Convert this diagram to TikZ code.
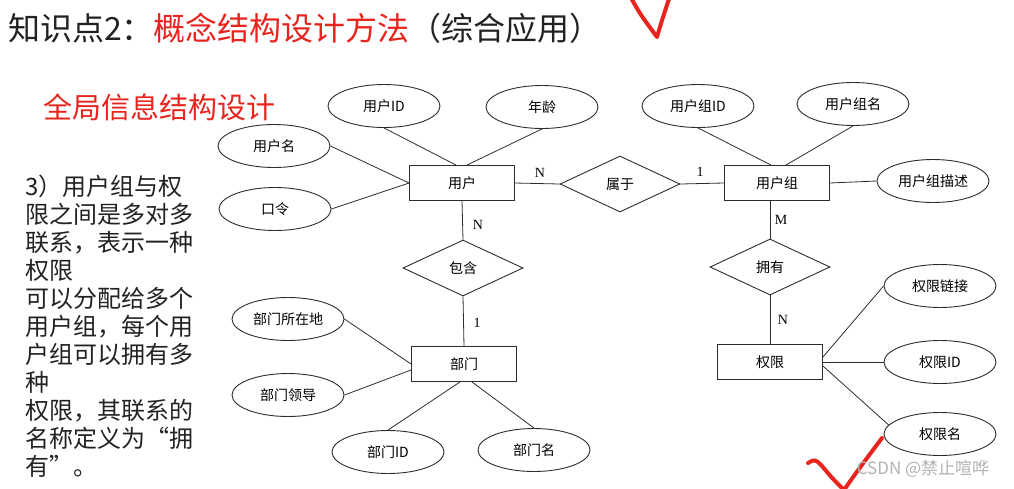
\documentclass[tikz,border=0pt]{standalone}
\usepackage{fontspec}
\setmainfont{Noto Sans CJK SC}
\newfontfamily\cardfont{Liberation Serif}
\usepackage{xcolor}
\usepackage{tikz}
\usetikzlibrary{shapes.geometric}
\usetikzlibrary{positioning}
\definecolor{titlered}{RGB}{232,36,30}
\definecolor{txtgray}{RGB}{34,34,34}
\definecolor{erline}{RGB}{45,45,45}

\begin{document}
\begin{tikzpicture}[x=1pt, y=-1pt,
  entity/.style={draw=erline, line width=0.9pt, rectangle, minimum width=105pt, minimum height=35pt, inner sep=0pt, font=\fontsize{14}{16}\selectfont},
  attr/.style={draw=erline, line width=0.9pt, ellipse, minimum width=112pt, minimum height=43pt, inner sep=0pt, font=\fontsize{14}{16}\selectfont},
  rel/.style={draw=erline, line width=0.9pt, diamond, minimum width=120pt, minimum height=56pt, inner sep=0pt, font=\fontsize{14}{16}\selectfont},
  card/.style={font=\cardfont\fontsize{14}{16}\selectfont, inner sep=0pt},
  link/.style={draw=erline, line width=0.8pt}]

  % Moldura
  \useasboundingbox (0,0) rectangle (1014,488);

  % Titulos
  \node[anchor=west, text=txtgray, inner sep=0pt, font=\fontsize{32}{36}\selectfont] (title) at (8,28)
    {知识点2：\textcolor{titlered}{概念结构设计方法}（综合应用）};
  \node[anchor=west, text=titlered, inner sep=0pt, font=\fontsize{29}{32}\selectfont] (sub) at (43,107) {全局信息结构设计};

  % Texto lateral
  \node[anchor=north west, align=left, text=txtgray, inner sep=0pt, font=\fontsize{24}{28}\selectfont] (desc) at (25,175)
    {3）用户组与权\\限之间是多对多\\联系，表示一种\\权限\\可以分配给多个\\用户组，每个用\\户组可以拥有多\\种\\权限，其联系的\\名称定义为“拥\\有”。};

  % Entidades
  \node[entity] (user) at (462,183) {用户};
  \node[entity] (group) at (777,183) {用户组};
  \node[entity] (dept) at (464,364) {部门};
  \node[entity] (perm) at (770,362) {权限};

  % Relacionamentos
  \node[rel] (belong) at (620,184) {属于};
  \node[rel] (contain) at (463,268) {包含};
  \node[rel] (own) at (770,267) {拥有};

  % Atributos
  \node[attr] (uid) at (384,106) {用户ID};
  \node[attr] (age) at (542,107) {年龄};
  \node[attr] (uname) at (274,146) {用户名};
  \node[attr] (pwd) at (275,209) {口令};
  \node[attr] (gid) at (698,106) {用户组ID};
  \node[attr] (gname) at (853,104) {用户组名};
  \node[attr] (gdesc) at (933,181) {用户组描述};
  \node[attr] (plink) at (940,286) {权限链接};
  \node[attr] (pid) at (940,362) {权限ID};
  \node[attr] (pname) at (940,434) {权限名};
  \node[attr] (dloc) at (288,319) {部门所在地};
  \node[attr] (dlead) at (288,395) {部门领导};
  \node[attr] (did) at (388,452) {部门ID};
  \node[attr] (dname) at (534,450) {部门名};

  % Ligacoes dos atributos
  \draw[link] (uid.south) -- ([xshift=-6pt]user.north);
  \draw[link] (age.south) -- ([xshift=5pt]user.north);
  \draw[link] (uname.east) -- (user.west);
  \draw[link] (pwd.east) -- (user.west);
  \draw[link] (gid.south) -- ([xshift=-6pt]group.north);
  \draw[link] (gname.south) -- ([xshift=9pt]group.north);
  \draw[link] (gdesc.west) -- (group.east);
  \draw[link] ([yshift=5pt]perm.east) -- (plink.west);
  \draw[link] (perm.east) -- (pid.west);
  \draw[link] ([yshift=-4pt]perm.east) -- (pname.170);
  \draw[link] (dloc.east) -- (dept.west);
  \draw[link] (dlead.east) -- ([yshift=-6pt]dept.west);
  \draw[link] (did.north) -- ([xshift=-4pt]dept.south);
  \draw[link] (dname.north) -- ([xshift=8pt]dept.south);

  % Ligacoes dos relacionamentos
  \draw[link] (user.east) -- (belong.west);
  \draw[link] (belong.east) -- (group.west);
  \draw[link] (user.south) -- (contain.north);
  \draw[link] (contain.south) -- (dept.north);
  \draw[link] ([xshift=-7pt]group.south) -- (own.north);
  \draw[link] (own.south) -- (perm.north);

  % Cardinalidades
  \node[card] (c1) at (540,173) {N};
  \node[card] (c2) at (700,172) {1};
  \node[card] (c3) at (478,225) {N};
  \node[card] (c4) at (477,323) {1};
  \node[card] (c5) at (781,220) {M};
  \node[card] (c6) at (783,320) {N};

  % Marcas vermelhas
  \draw[titlered, line width=4pt, line cap=round, line join=round]
    (630,-4) .. controls (640,14) .. (657,37) .. controls (662,20) .. (670,-4);
  \draw[titlered, line width=4pt, line cap=round, line join=round]
    (808,463) .. controls (815,459) .. (822,466) .. controls (832,478) .. (844,490) .. controls (858,470) .. (882,438);

  % Marca d'agua
  \node[text=gray!60, inner sep=0pt, font=\fontsize{17}{20}\selectfont] (mark) at (923,469) {CSDN @禁止喧哗};

\end{tikzpicture}
\end{document}
